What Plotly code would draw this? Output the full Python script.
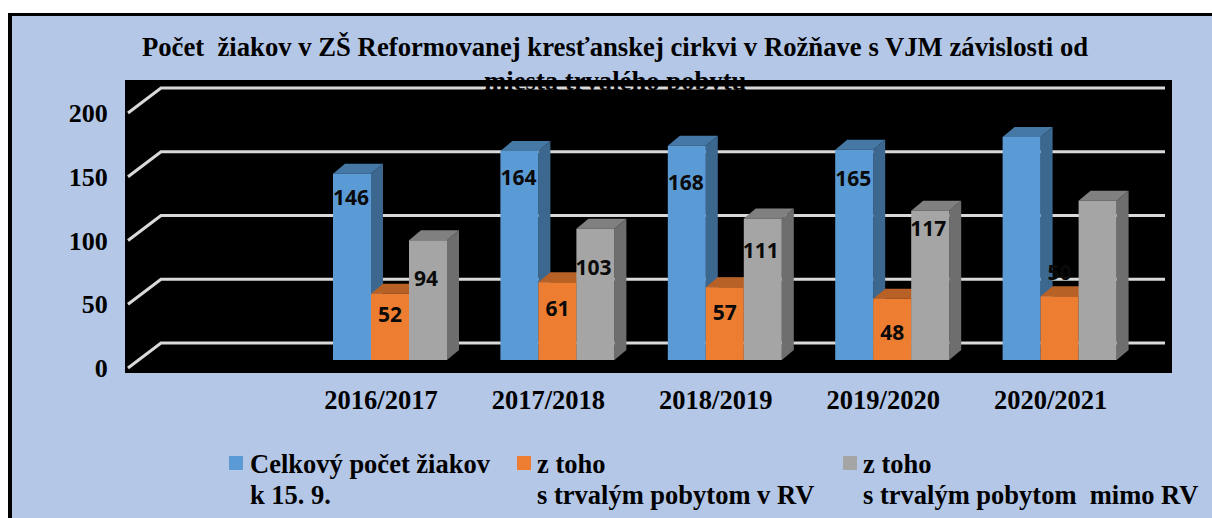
import plotly.graph_objects as go

TITLE_LINES = ["Počet \u00a0žiakov v ZŠ Reformovanej kresťanskej cirkvi v Rožňave s VJM závislosti od",
               "miesta trvalého pobytu"]
CATEGORIES = ["2016/2017", "2017/2018", "2018/2019", "2019/2020", "2020/2021"]
TOTAL = [146, 164, 168, 165, 175]
IN_RV = [52, 61, 57, 48, 50]
OUT_RV = [94, 103, 111, 117, 125]
TOTAL_LABELS = ["146", "164", "168", "165", ""]
IN_RV_LABELS = ["52", "61", "57", "48", "50"]
OUT_RV_LABELS = ["94", "103", "111", "117", ""]
LEGEND_NAMES = [["Celkový počet žiakov", "k 15. 9."],
                ["z toho", "s trvalým pobytom v RV"],
                ["z toho", "s trvalým pobytom \u00a0mimo RV"]]
Y_TICKS = [0, 50, 100, 150, 200]

# --- layout geometry, in page pixels ---
W, H = 1212, 518
L, R, T, B = 125, 1172, 80, 373
CAT0_PX, CAT_STEP = 381.0, 167.4
Y0_PX, Y_SCALE = 368.0, 1.275
BAR_W = 38.0
BAR_LEFT = [-48.0, -10.0, 28.0]
LABEL_DX = [-30.0, 9.0, 45.0]
BAR_BASE_PX = 360.0
DEPTH_X, DEPTH_Y = 12.0, 10.0
WALL_X, WALL_Y = 33.0, 25.0
GRID_START, GRID_END = 128.0, 1165.0
# how far each label's centre sits below its bar's top, px
DROP_TOTAL = [26, 29, 39, 31, 0]
DROP_IN = [23, 29, 27, 36, -22]
DROP_OUT = [41, 41, 34, 20, 0]

PANEL = "#B4C7E7"
FRONT = ["#5B9BD5", "#ED7D31", "#A5A5A5"]
SIDE = ["#3C678F", "#9E5321", "#6E6E6E"]
TOP = ["#4678A6", "#B86126", "#808080"]
GRID = "#D9D9D9"
SERIF = "Liberation Serif"
SANS = "Open Sans"


def xd(px):
    return (px - CAT0_PX) / CAT_STEP


def dx(px):
    return px / CAT_STEP


def dy(px):
    return px / Y_SCALE


def px_x(px):
    return (px - L) / (R - L)


def px_y(py):
    return (B - py) / (B - T)


X_RANGE = [xd(L), xd(R)]
Y_RANGE = [(Y0_PX - B) / Y_SCALE, (Y0_PX - T) / Y_SCALE]
BASE = dy(Y0_PX - BAR_BASE_PX)
idx = list(range(len(CATEGORIES)))
SERIES = [TOTAL, IN_RV, OUT_RV]
LABELS = [TOTAL_LABELS, IN_RV_LABELS, OUT_RV_LABELS]
DROPS = [DROP_TOTAL, DROP_IN, DROP_OUT]

fig = go.Figure()

# gridlines of the 3-D back wall and floor edge
gx, gy = [], []
for t in Y_TICKS:
    gx += [xd(GRID_START), xd(GRID_START + WALL_X), xd(GRID_END), None]
    gy += [t, t + dy(WALL_Y), t + dy(WALL_Y), None]
fig.add_trace(go.Scatter(x=gx, y=gy, mode="lines", line=dict(color=GRID, width=3),
                         hoverinfo="skip", showlegend=False))

# side and top faces, back-to-front per group
for i in idx:
    for s, values in enumerate(SERIES):
        xl = i + dx(BAR_LEFT[s])
        xr = xl + dx(BAR_W)
        ddx, ddy = dx(DEPTH_X), dy(DEPTH_Y)
        top = BASE + values[i]
        fig.add_trace(go.Scatter(
            x=[xr, xr + ddx, xr + ddx, xr, xr],
            y=[BASE, BASE + ddy, top + ddy, top, BASE],
            mode="lines", fill="toself", fillcolor=SIDE[s], line=dict(width=0),
            hoverinfo="skip", showlegend=False))
        fig.add_trace(go.Scatter(
            x=[xl, xl + ddx, xr + ddx, xr, xl],
            y=[top, top + ddy, top + ddy, top, top],
            mode="lines", fill="toself", fillcolor=TOP[s], line=dict(width=0),
            hoverinfo="skip", showlegend=False))

# front faces
for s, values in enumerate(SERIES):
    fig.add_trace(go.Bar(
        x=idx, y=values, base=BASE, width=dx(BAR_W), offset=dx(BAR_LEFT[s]),
        marker=dict(color=FRONT[s], line=dict(width=0)),
        xaxis="x2", yaxis="y2", showlegend=False,
        name=" ".join(LEGEND_NAMES[s])))

# value labels
for s, values in enumerate(SERIES):
    fig.add_trace(go.Scatter(
        x=[i + dx(LABEL_DX[s]) for i in idx],
        y=[BASE + v - dy(d) for v, d in zip(values, DROPS[s])],
        text=LABELS[s], mode="text", textposition="middle center",
        textfont=dict(family=SANS, size=21, color="#0A0A0A", weight="bold"),
        xaxis="x2", yaxis="y2", hoverinfo="skip", showlegend=False))


def strip(x0, x1, y0, y1, color):
    return dict(type="rect", xref="paper", yref="paper",
                x0=px_x(x0), x1=px_x(x1), y0=px_y(y1), y1=px_y(y0),
                fillcolor=color, line_width=0, layer="below")


shapes = [
    strip(0, W, 0, 13, "white"),
    strip(0, 8, 0, H, "white"),
    strip(8, 12, 13, H, "black"),
    strip(8, W, 13, 16, "black"),
]
LEG_SWATCH_X = [229, 517, 843]
LEG_TEXT_X = [249, 536, 862]
LEG_Y0, LEG_Y1 = 456, 470
LEG_LINE_Y = [464, 495]
TITLE_FONT = dict(family=SERIF, size=26.7, color="black", weight="bold")
LEGEND_FONT = dict(family=SERIF, size=26.5, color="black", weight="bold")

annotations = [dict(text=TITLE_LINES[1], xref="paper", yref="paper", x=px_x(615), y=px_y(81),
                    xanchor="center", yanchor="middle", showarrow=False, borderpad=0,
                    font=TITLE_FONT)]
for s, lines in enumerate(LEGEND_NAMES):
    shapes.append(strip(LEG_SWATCH_X[s], LEG_SWATCH_X[s] + 14, LEG_Y0, LEG_Y1, FRONT[s]))
    for line, y in zip(lines, LEG_LINE_Y):
        annotations.append(dict(text=line, xref="paper", yref="paper", x=px_x(LEG_TEXT_X[s]),
                                y=px_y(y), xanchor="left", yanchor="middle", align="left",
                                showarrow=False, borderpad=0, font=LEGEND_FONT))

fig.update_layout(
    width=W, height=H, autosize=False,
    margin=dict(l=L, r=W - R, t=T, b=H - B, pad=0),
    paper_bgcolor=PANEL, plot_bgcolor="black", barmode="overlay", showlegend=False,
    title=dict(text=TITLE_LINES[0], x=615 / W, xanchor="center", y=1 - 47 / H, yanchor="middle",
               yref="container", font=TITLE_FONT),
    xaxis=dict(range=X_RANGE, tickmode="array", tickvals=idx, ticktext=CATEGORIES,
               showgrid=False, zeroline=False, ticks="outside", ticklen=3,
               tickcolor="rgba(0,0,0,0)",
               tickfont=dict(family=SERIF, size=26.5, color="black", weight="bold")),
    yaxis=dict(range=Y_RANGE, tickmode="array", tickvals=Y_TICKS,
               showgrid=False, zeroline=False, ticks="outside", ticklen=11,
               tickcolor="rgba(0,0,0,0)",
               tickfont=dict(family=SERIF, size=26, color="black", weight="bold")),
    xaxis2=dict(range=X_RANGE, overlaying="x", visible=False),
    yaxis2=dict(range=Y_RANGE, overlaying="y", visible=False),
    shapes=shapes, annotations=annotations,
)

fig.write_html("out.html", config=dict(displayModeBar=False),
               post_script="document.body.style.margin='0';document.body.style.overflow='hidden';")
